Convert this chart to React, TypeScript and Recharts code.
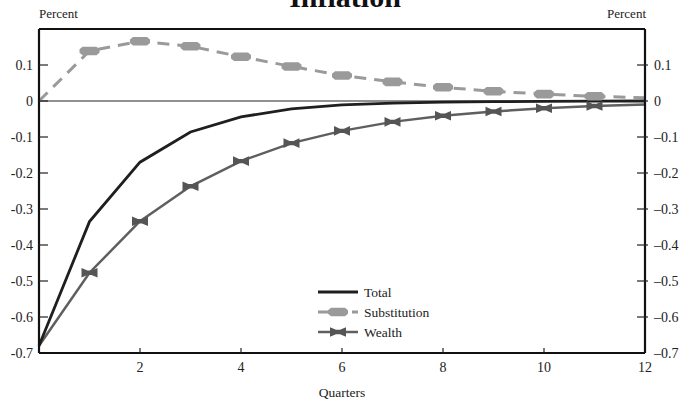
import React from 'react';
import { LineChart, Line, XAxis, YAxis, ReferenceLine } from 'recharts';

const quarters = [0, 1, 2, 3, 4, 5, 6, 7, 8, 9, 10, 11, 12];
const total = [-0.68, -0.335, -0.17, -0.086, -0.044, -0.022, -0.011, -0.006, -0.003, -0.002, -0.001, -0.0005, 0];
const substitution = [0, 0.139, 0.166, 0.152, 0.123, 0.096, 0.071, 0.053, 0.038, 0.027, 0.019, 0.013, 0.009];
const wealth = [-0.68, -0.477, -0.334, -0.237, -0.167, -0.117, -0.083, -0.058, -0.041, -0.029, -0.02, -0.014, -0.01];

const xTicks = [2, 4, 6, 8, 10, 12];
const yTicks = [-0.7, -0.6, -0.5, -0.4, -0.3, -0.2, -0.1, 0, 0.1];

const FONT = '"Liberation Serif", "DejaVu Serif", serif';
const INK = '#222';

const data = quarters.map((q, i) => ({
  q,
  total: total[i],
  substitution: substitution[i],
  wealth: wealth[i],
}));

function Blob({ cx, cy }: { cx: number; cy: number }) {
  const pts = [
    [-10, -1.8], [-7, -4.3], [7, -4.3], [10, -1.8], [10, 1.8], [7, 4.3], [-7, 4.3], [-10, 1.8],
  ].map(([x, y]) => `${cx + x},${cy + y}`).join(' ');
  return <polygon points={pts} fill="#9a9a9a" />;
}

function Bowtie({ cx, cy }: { cx: number; cy: number }) {
  const pts = [
    [-8, -4.8], [-2, -2.2], [2, -2.2], [8, -4.8], [8, 4.8], [2, 2.2], [-2, 2.2], [-8, 4.8],
  ].map(([x, y]) => `${cx + x},${cy + y}`).join(' ');
  return <polygon points={pts} fill="#555" />;
}

const innerDot = (Shape: typeof Blob) => (props: any) => {
  const { cx, cy, index } = props;
  if (index === 0 || index === quarters.length - 1) return <g key={`d${index}`} />;
  return (
    <g key={`d${index}`}>
      <Shape cx={cx} cy={cy} />
    </g>
  );
};

const fmt = (v: number, dash: string) => {
  if (Math.abs(v) < 1e-9) return '0';
  return v < 0 ? `${dash}${Math.abs(v).toFixed(1)}` : v.toFixed(1);
};

function LeftTick(props: any) {
  const { x, y, payload } = props;
  return (
    <g>
      {payload.value !== -0.7 && <line x1={x} x2={x + 9} y1={y} y2={y} stroke={INK} strokeWidth={1.2} />}
      <text x={x - 6} y={y + 4.5} textAnchor="end" fontSize={14} fill={INK} fontFamily={FONT}>
        {fmt(payload.value, '-')}
      </text>
    </g>
  );
}

function RightTick(props: any) {
  const { x, y, payload } = props;
  return (
    <g>
      {payload.value !== -0.7 && <line x1={x - 8} x2={x + 3} y1={y} y2={y} stroke={INK} strokeWidth={1.2} />}
      <text x={x + 9} y={y + 4.5} textAnchor="start" fontSize={14} fill={INK} fontFamily={FONT}>
        {fmt(payload.value, '\u2013')}
      </text>
    </g>
  );
}

function BottomTick(props: any) {
  const { x, y, payload } = props;
  return (
    <g>
      {payload.value !== 12 && <line x1={x} x2={x} y1={y - 5} y2={y} stroke={INK} strokeWidth={1.2} />}
      <text x={x} y={y + 19} textAnchor="middle" fontSize={14} fill={INK} fontFamily={FONT}>
        {payload.value}
      </text>
    </g>
  );
}

function LegendRow({ y, label, kind }: { y: number; label: string; kind: 'total' | 'sub' | 'wealth' }) {
  return (
    <g>
      {kind === 'total' && <line x1={318} x2={358} y1={y} y2={y} stroke="#1f1f1f" strokeWidth={2.8} />}
      {kind === 'sub' && (
        <g>
          <line x1={318} x2={358} y1={y} y2={y} stroke="#9a9a9a" strokeWidth={3} strokeDasharray="12 5" />
          <Blob cx={338} cy={y} />
        </g>
      )}
      {kind === 'wealth' && (
        <g>
          <line x1={318} x2={358} y1={y} y2={y} stroke="#5f5f5f" strokeWidth={2.5} />
          <Bowtie cx={338} cy={y} />
        </g>
      )}
      <text x={364} y={y + 4.5} fontSize={13.5} fill={INK} fontFamily={FONT}>{label}</text>
    </g>
  );
}

export default function App() {
  return (
    <div style={{ position: 'fixed', left: 0, top: 0, width: 684, height: 405, background: '#fff' }}>
      <LineChart width={684} height={405} data={data} margin={{ top: 29, right: 0, bottom: 0, left: 0 }}>
        <XAxis
          dataKey="q"
          type="number"
          domain={[0, 12]}
          ticks={xTicks}
          height={52}
          tickSize={0}
          tickMargin={0}
          tickLine={false}
          axisLine={{ stroke: '#111', strokeWidth: 2.2 }}
          tick={<BottomTick />}
        />
        <YAxis
          yAxisId="left"
          orientation="left"
          width={39}
          domain={[-0.7, 0.2]}
          ticks={yTicks}
          allowDataOverflow
          tickSize={0}
          tickMargin={0}
          tickLine={false}
          axisLine={{ stroke: '#111', strokeWidth: 2.2 }}
          tick={<LeftTick />}
        />
        <YAxis
          yAxisId="right"
          orientation="right"
          width={39}
          domain={[-0.7, 0.2]}
          ticks={yTicks}
          allowDataOverflow
          tickSize={0}
          tickMargin={0}
          tickLine={false}
          axisLine={{ stroke: '#111', strokeWidth: 2.2 }}
          tick={<RightTick />}
        />
        <ReferenceLine yAxisId="left" y={0.2} stroke="#111" strokeWidth={2.2} />
        <ReferenceLine yAxisId="left" y={0} stroke="#6d6d6d" strokeWidth={1.4} />
        <Line
          yAxisId="left"
          type="linear"
          dataKey="substitution"
          stroke="#9a9a9a"
          strokeWidth={3}
          strokeDasharray="12 8"
          dot={innerDot(Blob)}
          activeDot={false}
          isAnimationActive={false}
        />
        <Line
          yAxisId="left"
          type="linear"
          dataKey="wealth"
          stroke="#5f5f5f"
          strokeWidth={2.5}
          dot={innerDot(Bowtie)}
          activeDot={false}
          isAnimationActive={false}
        />
        <Line
          yAxisId="left"
          type="linear"
          dataKey="total"
          stroke="#1f1f1f"
          strokeWidth={2.8}
          dot={false}
          activeDot={false}
          isAnimationActive={false}
        />
      </LineChart>
      <svg width={684} height={405} style={{ position: 'absolute', left: 0, top: 0, pointerEvents: 'none' }}>
        <text x={345} y={7} textAnchor="middle" fontSize={30} fontWeight="bold" fill="#111" fontFamily={FONT}>
          Inflation
        </text>
        <text x={39} y={18} fontSize={13} fill={INK} fontFamily={FONT}>Percent</text>
        <text x={646} y={18} textAnchor="end" fontSize={13} fill={INK} fontFamily={FONT}>Percent</text>
        <text x={342} y={397} textAnchor="middle" fontSize={13.5} fill={INK} fontFamily={FONT}>Quarters</text>
        <LegendRow y={292} label="Total" kind="total" />
        <LegendRow y={312} label="Substitution" kind="sub" />
        <LegendRow y={332} label="Wealth" kind="wealth" />
      </svg>
    </div>
  );
}
